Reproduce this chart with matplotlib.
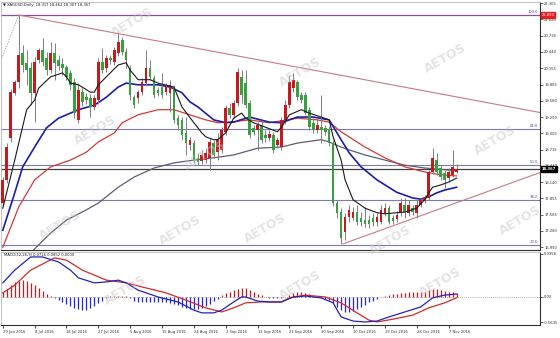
import matplotlib
matplotlib.use('Agg')
import matplotlib.pyplot as plt
from matplotlib import font_manager

# MT4 uses a narrow UI font; take a narrow face when one is installed
font_names = {f.name for f in font_manager.fontManager.ttflist}
if 'Liberation Sans Narrow' in font_names:
    plt.rcParams['font.family'] = ['Liberation Sans Narrow', 'DejaVu Sans']
    small = 3.5
else:
    plt.rcParams['font.family'] = ['DejaVu Sans']
    plt.rcParams['font.stretch'] = 'condensed'
    small = 3.0

# XAGUSD daily candles (one bar per trading day incl. Sunday bars)
opens = [17.77, 18.18, 18.92, 19.72, 19.91, 20.42, 20.25, 20.16, 19.72, 20.30,
         20.48, 20.33, 20.12, 20.42, 20.30, 20.23, 20.17, 20.07, 19.91, 19.24,
         19.73, 19.64, 19.63, 19.47, 19.59, 20.26, 20.16, 20.33, 20.26, 20.42,
         20.65, 20.44, 20.16, 19.64, 19.63, 19.73, 19.89, 20.16, 19.98, 19.77,
         19.82, 19.73, 19.72, 19.80, 19.27, 19.24, 19.01, 18.80, 18.83, 18.57,
         18.51, 18.53, 18.57, 18.83, 18.67, 18.71, 19.03, 19.45, 19.33, 19.54,
         20.00, 19.89, 19.54, 19.10, 19.06, 19.15, 18.97, 18.92, 18.97, 18.80,
         18.76, 19.24, 19.50, 19.80, 19.91, 19.68, 19.68, 19.42, 19.19, 19.06,
         19.11, 19.10, 19.06, 18.83, 17.77, 17.61, 17.26, 17.52, 17.51, 17.61,
         17.51, 17.47, 17.47, 17.51, 17.44, 17.44, 17.60, 17.68, 17.51, 17.49,
         17.60, 17.74, 17.60, 17.68, 17.60, 17.74, 17.81, 17.86, 18.32, 18.53,
         18.39, 18.30, 18.21, 18.27, 18.317]
highs = [18.23, 18.83, 19.79, 19.95, 21.09, 20.56, 20.48, 20.26, 20.35, 20.51,
         20.69, 20.44, 20.62, 20.60, 20.39, 20.33, 20.21, 20.12, 19.98, 19.89,
         19.80, 19.72, 19.70, 19.68, 20.33, 20.51, 20.39, 20.39, 20.53, 20.78,
         20.70, 20.51, 20.21, 19.68, 19.77, 19.98, 20.48, 20.30, 20.03, 19.82,
         20.07, 19.89, 19.95, 19.86, 19.33, 19.29, 19.29, 18.94, 18.89, 18.66,
         18.71, 18.74, 18.92, 18.89, 19.01, 19.11, 19.50, 19.54, 19.59, 20.16,
         20.12, 20.12, 19.59, 19.15, 19.20, 19.24, 19.06, 19.06, 19.03, 18.94,
         19.29, 19.59, 20.03, 20.07, 19.95, 19.73, 19.73, 19.47, 19.27, 19.27,
         19.68, 19.15, 19.13, 18.89, 17.83, 17.68, 17.60, 17.74, 17.70, 17.74,
         17.61, 17.70, 17.56, 17.60, 17.60, 17.74, 17.77, 17.74, 17.56, 17.63,
         17.86, 17.86, 17.83, 17.74, 17.83, 17.86, 17.91, 18.36, 18.74, 18.66,
         18.44, 18.36, 18.39, 18.71, 18.462]
lows = [17.72, 18.12, 18.85, 19.68, 19.80, 20.09, 19.86, 19.50, 19.20, 20.25,
        20.19, 20.03, 20.07, 19.95, 20.12, 20.03, 19.95, 19.77, 19.27, 19.19,
        19.49, 19.52, 19.29, 19.42, 19.52, 20.07, 20.09, 20.23, 20.21, 20.37,
        20.39, 20.16, 19.59, 19.45, 19.54, 19.68, 19.84, 19.95, 19.63, 19.66,
        19.63, 19.68, 19.38, 19.19, 19.06, 18.89, 18.62, 18.71, 18.48, 18.44,
        18.46, 18.48, 18.36, 18.57, 18.53, 18.66, 18.97, 19.27, 19.27, 19.49,
        19.54, 19.45, 18.92, 18.97, 18.71, 18.83, 18.85, 18.87, 18.66, 18.74,
        18.71, 19.17, 19.45, 19.73, 19.59, 19.54, 19.33, 19.06, 19.01, 19.01,
        18.83, 18.97, 18.78, 17.72, 17.51, 17.05, 17.12, 17.44, 17.47, 17.38,
        17.37, 17.35, 17.33, 17.37, 17.37, 17.40, 17.54, 17.40, 17.40, 17.44,
        17.54, 17.51, 17.54, 17.56, 17.51, 17.70, 17.77, 17.83, 18.28, 18.27,
        18.18, 18.04, 18.16, 18.23, 18.307]
closes = [18.18, 18.76, 19.73, 19.91, 20.39, 20.21, 20.12, 19.72, 20.26, 20.48,
          20.26, 20.12, 20.42, 20.25, 20.19, 20.16, 20.00, 19.86, 19.36, 19.77,
          19.56, 19.59, 19.47, 19.63, 20.26, 20.12, 20.33, 20.30, 20.48, 20.62,
          20.44, 20.30, 19.68, 19.50, 19.73, 19.91, 20.16, 20.00, 19.68, 19.72,
          19.68, 19.82, 19.86, 19.24, 19.15, 18.97, 18.83, 18.89, 18.53, 18.50,
          18.62, 18.66, 18.85, 18.62, 18.89, 19.06, 19.45, 19.33, 19.54, 20.09,
          19.68, 19.50, 18.97, 19.03, 19.15, 18.89, 18.92, 18.99, 18.71, 18.89,
          19.24, 19.50, 19.91, 19.95, 19.64, 19.59, 19.36, 19.11, 19.06, 19.15,
          19.06, 19.03, 18.83, 17.77, 17.60, 17.15, 17.52, 17.65, 17.61, 17.44,
          17.44, 17.40, 17.40, 17.44, 17.52, 17.65, 17.68, 17.44, 17.45, 17.56,
          17.77, 17.61, 17.74, 17.61, 17.74, 17.83, 17.86, 18.32, 18.57, 18.32,
          18.23, 18.18, 18.32, 18.41, 18.367]

date_bars = [0, 8, 16, 24, 32, 40, 48, 56, 64, 72, 80, 88, 96, 104, 112]
date_labels = ['29 Jun 2016', '8 Jul 2016', '18 Jul 2016', '27 Jul 2016', '5 Aug 2016',
               '15 Aug 2016', '24 Aug 2016', '2 Sep 2016', '12 Sep 2016', '21 Sep 2016',
               '30 Sep 2016', '10 Oct 2016', '19 Oct 2016', '28 Oct 2016', '7 Nov 2016']

# moving averages at sample bars
ma_fast_bars = [0, 3, 6, 8, 9, 12, 15, 16, 17, 19, 22, 23, 24, 27, 29, 31, 32, 34, 37, 39,
                43, 45, 48, 50, 51, 53, 54, 56, 58, 60, 61, 63, 66, 69, 70, 72, 75, 77, 80,
                82, 83, 85, 86, 88, 91, 94, 96, 99, 101, 104, 106, 107, 108, 110, 112, 114]
ma_fast = [17.68, 18.53, 19.42, 19.59, 19.80, 20.00, 20.07, 20.00, 19.89, 19.86, 19.73,
           19.73, 19.86, 20.07, 20.21, 20.25, 20.12, 19.95, 19.95, 19.89, 19.82, 19.47,
           19.19, 19.01, 18.94, 18.89, 18.89, 19.01, 19.27, 19.36, 19.27, 19.19, 19.11,
           19.03, 19.11, 19.33, 19.42, 19.36, 19.29, 19.24, 18.94, 18.53, 18.18, 17.83,
           17.68, 17.60, 17.58, 17.60, 17.61, 17.68, 17.83, 17.95, 18.05, 18.09, 18.14, 18.21]
ma_mid_bars = [0, 3, 5, 8, 11, 14, 16, 19, 23, 26, 29, 31, 34, 39, 42, 45, 47, 49, 53, 56,
               58, 62, 67, 70, 74, 78, 82, 85, 87, 90, 94, 99, 103, 105, 107, 109, 111, 114]
ma_mid = [17.29, 17.95, 18.41, 18.76, 19.10, 19.27, 19.33, 19.42, 19.50, 19.64, 19.82,
          19.89, 19.86, 19.86, 19.82, 19.72, 19.56, 19.47, 19.24, 19.19, 19.20, 19.29,
          19.20, 19.19, 19.29, 19.29, 19.24, 18.89, 18.66, 18.41, 18.18, 17.96, 17.86,
          17.84, 17.88, 17.95, 18.00, 18.05]
ma_slow_bars = [0, 4, 8, 12, 17, 21, 24, 28, 30, 34, 39, 43, 47, 51, 54, 57, 62, 67, 74,
                79, 82, 85, 87, 91, 96, 101, 106, 110, 114]
ma_slow = [16.99, 17.70, 18.18, 18.41, 18.53, 18.67, 18.85, 19.01, 19.19, 19.33, 19.42,
           19.42, 19.33, 19.24, 19.19, 19.20, 19.24, 19.19, 19.27, 19.24, 19.20, 19.03,
           18.94, 18.76, 18.57, 18.41, 18.32, 18.27, 18.25]
ma_long_bars = [5, 7, 12, 16, 21, 24, 29, 33, 38, 43, 48, 53, 58, 64, 70, 74, 80, 82, 85,
                87, 91, 96, 101, 106, 111, 114]
ma_long = [16.80, 16.89, 17.24, 17.47, 17.65, 17.77, 18.05, 18.23, 18.39, 18.48, 18.53,
           18.57, 18.62, 18.74, 18.76, 18.83, 18.89, 18.85, 18.76, 18.71, 18.62, 18.53,
           18.44, 18.39, 18.36, 18.34]

fib_levels = [21.093, 19.079, 18.443, 17.825, 17.030]
fib_names = ['100.0', '61.8', '50.0', '38.2', '23.6']
price_ticks = [21.305, 21.020, 20.730, 20.440, 20.155, 19.865, 19.580, 19.290, 19.005,
               18.715, 18.430, 18.140, 17.855, 17.565, 17.280, 16.990]

# trend lines (bar, price)
upper_trend = [(4, 21.093), (135, 19.37)]
lower_trend = [(85.5, 17.05), (135, 18.31)]
fib_diag = [(-2, 20.01), (4, 21.093)]

# MACD(12,26,9)
macd_hist = [0.10, 0.165, 0.25, 0.32, 0.34, 0.36, 0.34, 0.30, 0.25, 0.19, 0.12, 0.055, 0.01,
             -0.03, -0.07, -0.11, -0.16, -0.21, -0.25, -0.28, -0.30, -0.29, -0.26, -0.21,
             -0.15, -0.09, -0.04,
             0.01, 0.02, 0.02, 0.02, 0.01,
             -0.04, -0.09, -0.12, -0.13, -0.12, -0.11, -0.12, -0.13, -0.13, -0.13, -0.14,
             -0.16, -0.19, -0.22, -0.25, -0.27, -0.28, -0.27, -0.25, -0.21, -0.16, -0.10, -0.05,
             0.03, 0.07, 0.11, 0.14, 0.17, 0.19, 0.18, 0.15, 0.10, 0.06, 0.03,
             -0.02, -0.03, -0.03, -0.03, -0.03, -0.02,
             0.04, 0.08, 0.10, 0.10, 0.08, 0.05, 0.02,
             -0.02, -0.03, -0.05, -0.08, -0.15, -0.22, -0.29, -0.33, -0.34, -0.32, -0.28,
             -0.23, -0.18, -0.13, -0.09, -0.05, -0.02,
             0.02, 0.04, 0.05, 0.06, 0.07, 0.08, 0.09, 0.09, 0.10, 0.10, 0.11, 0.14, 0.17,
             0.17, 0.15, 0.13, 0.11, 0.10, 0.08]
macd_bars = [0, 3, 7, 10, 14, 17, 19, 23, 26, 29, 31, 34, 39, 44, 48, 50, 53, 55, 58, 60,
             61, 64, 67, 70, 73, 76, 80, 83, 85, 88, 91, 94, 97, 101, 105, 108, 111, 114]
macd_line = [0.30, 0.58, 0.87, 0.87, 0.76, 0.58, 0.41, 0.30, 0.32, 0.36, 0.30, 0.14, -0.01,
             -0.12, -0.30, -0.36, -0.36, -0.30, -0.12, -0.01, -0.01, -0.10, -0.12, -0.12,
             -0.01, 0.01, -0.03, -0.14, -0.45, -0.54, -0.56, -0.54, -0.45, -0.34, -0.23,
             -0.03, 0.03, 0.055]
signal_bars = [0, 3, 7, 11, 13, 16, 20, 23, 26, 31, 35, 41, 46, 51, 55, 58, 61, 65, 70, 72,
               76, 81, 85, 89, 92, 94, 98, 103, 107, 111, 114]
signal_line = [0.08, 0.25, 0.58, 0.76, 0.85, 0.80, 0.58, 0.47, 0.36, 0.30, 0.21, 0.08, -0.08,
               -0.25, -0.34, -0.25, -0.14, -0.12, -0.12, -0.03, 0.03, -0.01, -0.14, -0.36,
               -0.52, -0.56, -0.50, -0.41, -0.25, -0.14, -0.03]

UP = '#c8191e'
DOWN = '#38a040'
WICK = '#808080'
FIB = '#7c7cae'

W, H = 560, 338
fig = plt.figure(figsize=(W / 100, H / 100), dpi=100)
fig.patch.set_facecolor('white')

ax = fig.add_axes([1 / W, (H - 250) / H, 539 / W, 248 / H])
ax2 = fig.add_axes([1 / W, (H - 325) / H, 539 / W, 73 / H])

for a in (ax, ax2):
    a.set_xlim(-0.45, 134.97)
    for s in ('top', 'left'):
        a.spines[s].set_color('#b8b8b8')
        a.spines[s].set_linewidth(0.6)
    for s in ('right', 'bottom'):
        a.spines[s].set_color('#303030')
        a.spines[s].set_linewidth(0.8)
    a.yaxis.tick_right()
    a.tick_params(axis='y', length=2, width=0.5, pad=1, labelsize=small, colors='#303030')

ax.set_ylim(16.941, 21.323)
ax.set_xticks([])

# fib levels and price lines
for lvl, name in zip(fib_levels, fib_names):
    col = '#8a4c9e' if name == '100.0' else FIB
    ax.axhline(lvl, color=col, lw=0.9 if name == '100.0' else 0.8, zorder=1)
    ax.text(134.4, lvl + 0.025, name, ha='right', va='bottom', fontsize=small, color='#5050a0')
ax.axhline(closes[-1], color='#404040', lw=0.9, zorder=1)

ax.plot([p[0] for p in fib_diag], [p[1] for p in fib_diag], color='#999999', lw=0.6,
        ls=(0, (1.5, 1.5)), zorder=1)
ax.plot([p[0] for p in upper_trend], [p[1] for p in upper_trend], color='#c77a88', lw=0.8, zorder=1)
ax.plot([p[0] for p in lower_trend], [p[1] for p in lower_trend], color='#c77a88', lw=0.8, zorder=1)

# moving averages
ax.plot(ma_long_bars, ma_long, color='#5d5d72', lw=0.9, zorder=2)
ax.plot(ma_slow_bars, ma_slow, color='#d23a3a', lw=0.9, zorder=2)
ax.plot(ma_mid_bars, ma_mid, color='#1d1dab', lw=1.2, zorder=2)
ax.plot(ma_fast_bars, ma_fast, color='#1a1a1a', lw=0.8, zorder=4)

# candles
idx = list(range(len(closes)))
ax.vlines(idx, lows, highs, color=WICK, lw=0.7, zorder=3)
bottoms = [min(o, c) for o, c in zip(opens, closes)]
heights = [max(abs(c - o), 0.012) for o, c in zip(opens, closes)]
colors = [UP if c >= o else DOWN for o, c in zip(opens, closes)]
ax.bar(idx, heights, bottom=bottoms, width=0.66, color=colors, zorder=3, linewidth=0)

ax.set_yticks(price_ticks)
ax.set_yticklabels(['%.3f' % v for v in price_ticks])

ax.annotate('%.3f' % closes[-1], xy=(1.0, closes[-1]), xycoords=('axes fraction', 'data'),
            xytext=(1.2, 0), textcoords='offset points', ha='left', va='center',
            fontsize=small, color='white', fontweight='bold',
            bbox=dict(boxstyle='square,pad=0.2', fc='black', ec='black'), zorder=10,
            annotation_clip=False)
ax.annotate('%.3f' % fib_levels[0], xy=(1.0, fib_levels[0]), xycoords=('axes fraction', 'data'),
            xytext=(1.2, 0), textcoords='offset points', ha='left', va='center',
            fontsize=small, color='white',
            bbox=dict(boxstyle='square,pad=0.2', fc='#e02020', ec='#e02020'), zorder=10,
            annotation_clip=False)

ax.text(0.004, 0.995, '\u25bc XAGUSD,Daily  %.3f %.3f %.3f %.3f' % (opens[-1], highs[-1], lows[-1], closes[-1]),
        transform=ax.transAxes, ha='left', va='top', fontsize=small, color='#202020')

# MACD panel
ax2.set_ylim(-0.627, 0.979)
ax2.axhline(0, color='#909090', lw=0.6, ls=(0, (1, 1.5)), zorder=1)
hist_cols = [UP if v >= 0 else '#2626d8' for v in macd_hist]
ax2.vlines(idx, 0, macd_hist, colors=hist_cols, lw=0.9, zorder=2)
ax2.plot(signal_bars, signal_line, color='#d42a2a', lw=0.9, zorder=3)
ax2.plot(macd_bars, macd_line, color='#2424b8', lw=0.9, zorder=3)
ax2.set_yticks([0.9356, 0.0, -0.5635])
ax2.set_yticklabels(['0.9356', '0.00', '-0.5635'])
ax2.text(0.006, 0.985, 'MACD(12,26,9) 0.0716 0.0852 0.0000', transform=ax2.transAxes,
         ha='left', va='top', fontsize=small, color='#202020')

ax2.set_xticks(date_bars)
ax2.set_xticklabels(date_labels, ha='left', fontsize=small, color='#303030')
ax2.tick_params(axis='x', length=2, width=0.5, pad=1.5)

# AETOS watermark
wm_x = [132, 300, 445, 95, 205, 495, 60, 180, 265, 390, 520, 125, 300, 440]
wm_y = [22, 72, 58, 130, 155, 140, 225, 230, 228, 240, 220, 290, 285, 282]
for x, y in zip(wm_x, wm_y):
    fig.text(x / W, 1 - y / H, 'AETOS', rotation=30, fontsize=9, fontweight='bold',
             color='#c4c4c4', alpha=0.45, ha='center', va='center',
             family=['DejaVu Sans'], stretch='normal')

fig.savefig('out.png', dpi=100)
plt.close(fig)
